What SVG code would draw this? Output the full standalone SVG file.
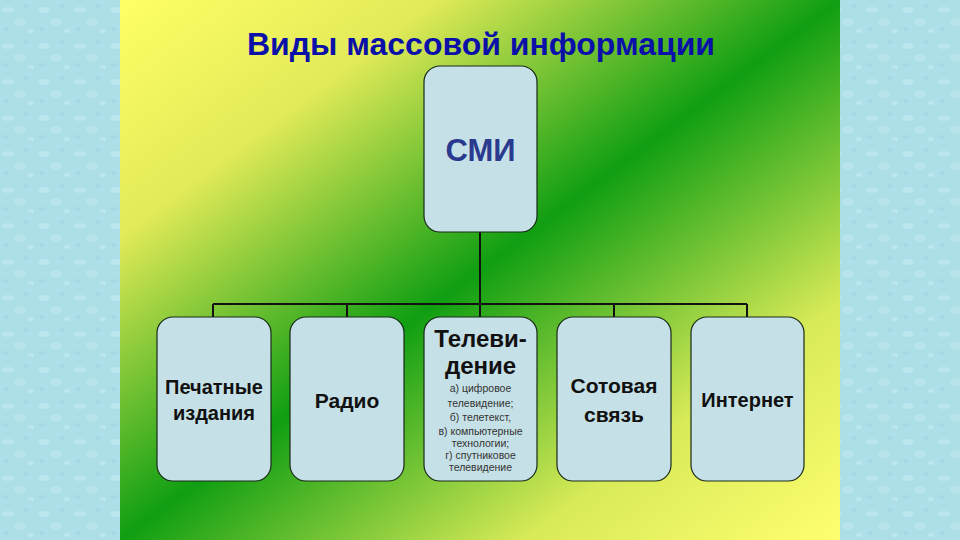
<svg xmlns="http://www.w3.org/2000/svg" width="960" height="540" viewBox="0 0 960 540">
<defs>
<linearGradient id="bg" x1="0" y1="0" x2="1" y2="1">
<stop offset="0" stop-color="#ffff66"/>
<stop offset="0.22" stop-color="#e2ea58"/>
<stop offset="0.5" stop-color="#109e12"/>
<stop offset="0.78" stop-color="#d8ea58"/>
<stop offset="1" stop-color="#ffff70"/>
</linearGradient>
<pattern id="drops" width="36" height="36" patternUnits="userSpaceOnUse">
<rect width="36" height="36" fill="#addfe8"/>
<ellipse cx="8" cy="10" rx="6" ry="3" fill="#c2e9f0" opacity="0.7"/>
<ellipse cx="26" cy="6" rx="3" ry="2" fill="#97d3de" opacity="0.5"/>
<ellipse cx="20" cy="22" rx="6" ry="4" fill="#c0e8ef" opacity="0.6"/>
<ellipse cx="6" cy="29" rx="3" ry="2" fill="#97d3de" opacity="0.5"/>
<ellipse cx="31" cy="31" rx="3" ry="2" fill="#c6ecf2" opacity="0.6"/>
</pattern>
</defs>
<style>
.box{fill:#c5e0e6;stroke:#1a2a1a;stroke-width:1.2}
.lbl{font-family:"Liberation Sans",Arial,sans-serif;font-weight:bold;fill:#111;text-anchor:middle}
.sm{font-family:"Liberation Sans",Arial,sans-serif;font-size:10.5px;fill:#333;text-anchor:middle}
.conn{stroke:#111;stroke-width:2;fill:none}
</style>
<rect x="0" y="0" width="960" height="540" fill="url(#drops)"/>
<rect x="120" y="0" width="720" height="540" fill="url(#bg)"/>
<text x="481" y="55" font-family="'Liberation Sans',Arial,sans-serif" font-weight="bold" font-size="31" fill="#0a10a8" text-anchor="middle" textLength="468" lengthAdjust="spacingAndGlyphs">Виды массовой информации</text>
<g id="connectors">
<path class="conn" d="M480 232 V304 M213 304 H747 M213 304 V317 M347 304 V317 M480 304 V317 M614 304 V317 M747 304 V317"/>
</g>
<g id="smi">
<rect class="box" x="424" y="66" width="113" height="166" rx="16"/>
<text x="480.5" y="161" font-family="'Liberation Sans',Arial,sans-serif" font-weight="bold" font-size="31" fill="#2a3a8e" text-anchor="middle">СМИ</text>
</g>
<g id="print">
<rect class="box" x="157" y="317" width="114" height="164" rx="16"/>
<text class="lbl" x="214" y="394" font-size="20">Печатные</text>
<text class="lbl" x="214" y="420" font-size="20">издания</text>
</g>
<g id="radio">
<rect class="box" x="290" y="317" width="114" height="164" rx="16"/>
<text class="lbl" x="347" y="408" font-size="21">Радио</text>
</g>
<g id="tv">
<rect class="box" x="424" y="317" width="113" height="164" rx="16"/>
<text class="lbl" x="480.5" y="347" font-size="24">Телеви-</text>
<text class="lbl" x="480.5" y="374" font-size="24">дение</text>
<text class="sm" x="480.5" y="392">а) цифровое</text>
<text class="sm" x="480.5" y="407">телевидение;</text>
<text class="sm" x="480.5" y="421">б) телетекст,</text>
<text class="sm" x="480.5" y="435">в) компьютерные</text>
<text class="sm" x="480.5" y="447">технологии;</text>
<text class="sm" x="480.5" y="459">г) спутниковое</text>
<text class="sm" x="480.5" y="471">телевидение</text>
</g>
<g id="cell">
<rect class="box" x="557" y="317" width="114" height="164" rx="16"/>
<text class="lbl" x="614" y="393" font-size="21">Сотовая</text>
<text class="lbl" x="614" y="422" font-size="21">связь</text>
</g>
<g id="internet">
<rect class="box" x="691" y="317" width="113" height="164" rx="16"/>
<text class="lbl" x="747.5" y="407" font-size="20">Интернет</text>
</g>
</svg>
